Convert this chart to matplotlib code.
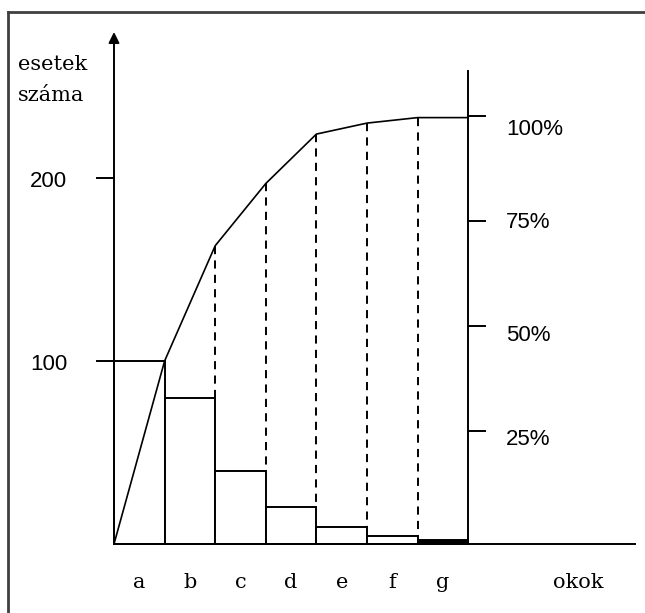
import matplotlib
matplotlib.use("Agg")
import matplotlib.pyplot as plt
from matplotlib.lines import Line2D

# data
categories = ["a", "b", "c", "d", "e", "f", "g"]
counts = [100, 80, 40, 20, 9.5, 4.2, 2.2]
# cumulative curve as drawn (one point per bar boundary)
cumulative = [0, 100, 163, 197, 224, 230, 233, 233]
count_ticks = [100, 200]
pct_ticks = [25, 50, 75, 100]
pct_zero, pct_full = 4.4, 234.0   # left-axis units of 0% and 100%
y_label = "esetek\nszáma"
x_label = "okok"

W, H = 645, 613
x0_px, bar_px = 114, 50.6     # left axis position, width of one bar
base_px, unit_px = 544, 1.83  # baseline position, pixels per case

fig = plt.figure(figsize=(W / 100, H / 100), dpi=100)
ax = fig.add_axes([0, 0, 1, 1])
ax.set_xlim(-x0_px / bar_px, (W - x0_px) / bar_px)
ax.set_ylim((base_px - H) / unit_px, base_px / unit_px)
ax.axis("off")

px = 1.0 / bar_px   # one pixel in x data units
py = 1.0 / unit_px  # one pixel in y data units
lw = 1.4
serif = dict(family="DejaVu Serif", fontsize=15)
sans = dict(family="Liberation Sans", fontsize=16)

# frame (left and top only are visible)
fig.add_artist(Line2D([8 / W, 8 / W], [0, 1 - 12 / H], color="#404040", lw=2))
fig.add_artist(Line2D([8 / W, 1], [1 - 12 / H, 1 - 12 / H], color="#404040", lw=2))

# bars
n = len(categories)
xs = list(range(n))
faces = ["white"] * (n - 1) + ["black"]
ax.bar(xs, counts, width=1, align="edge", color=faces, edgecolor="black", lw=lw, zorder=2)

# baseline
ax.plot([0, (635 - x0_px) / bar_px], [0, 0], color="black", lw=lw, zorder=3)

# left axis with arrow
top_left = (base_px - 32) / unit_px
ax.annotate("", xy=(0, top_left), xytext=(0, 0),
            arrowprops=dict(arrowstyle="-|>", lw=lw, color="black", mutation_scale=16,
                            shrinkA=0, shrinkB=0))
for t in count_ticks:
    ax.plot([-17 * px, 0], [t, t], color="black", lw=lw)
    ax.text(-47 * px, t - 4 * py, str(t), ha="right", va="center", **sans)

ax.text(18 * px - x0_px * px, (base_px - 80) / unit_px, y_label, ha="left", va="center",
        linespacing=1.75, **serif)

# right axis
right_x = n
top_right = (base_px - 71) / unit_px
ax.plot([right_x, right_x], [0, top_right], color="black", lw=lw)
label_drop = [9, 10, 2, 14]
for p, d in zip(pct_ticks, label_drop):
    u = pct_zero + p / 100 * (pct_full - pct_zero)
    ax.plot([right_x, right_x + 17 * px], [u, u], color="black", lw=lw)
    ax.text(right_x + 38 * px, u - d * py, f"{p}%", ha="left", va="center", **sans)

# cumulative curve
ax.plot(range(n + 1), cumulative, color="black", lw=1.2, zorder=4)

# dashed drop lines from the curve to the bars
for i in range(2, n):
    ax.plot([i, i], [cumulative[i], max(counts[i - 1], counts[i])], color="black",
            lw=lw, dashes=(4.2, 3.2), zorder=1)

# category labels
lab_y = (base_px - 582) / unit_px
for i, c in enumerate(categories):
    ax.text(i + 0.5, lab_y, c, ha="center", va="center", **serif)
ax.text((578 - x0_px) * px, lab_y, x_label, ha="center", va="center", **serif)

fig.savefig("out.png", dpi=100)
